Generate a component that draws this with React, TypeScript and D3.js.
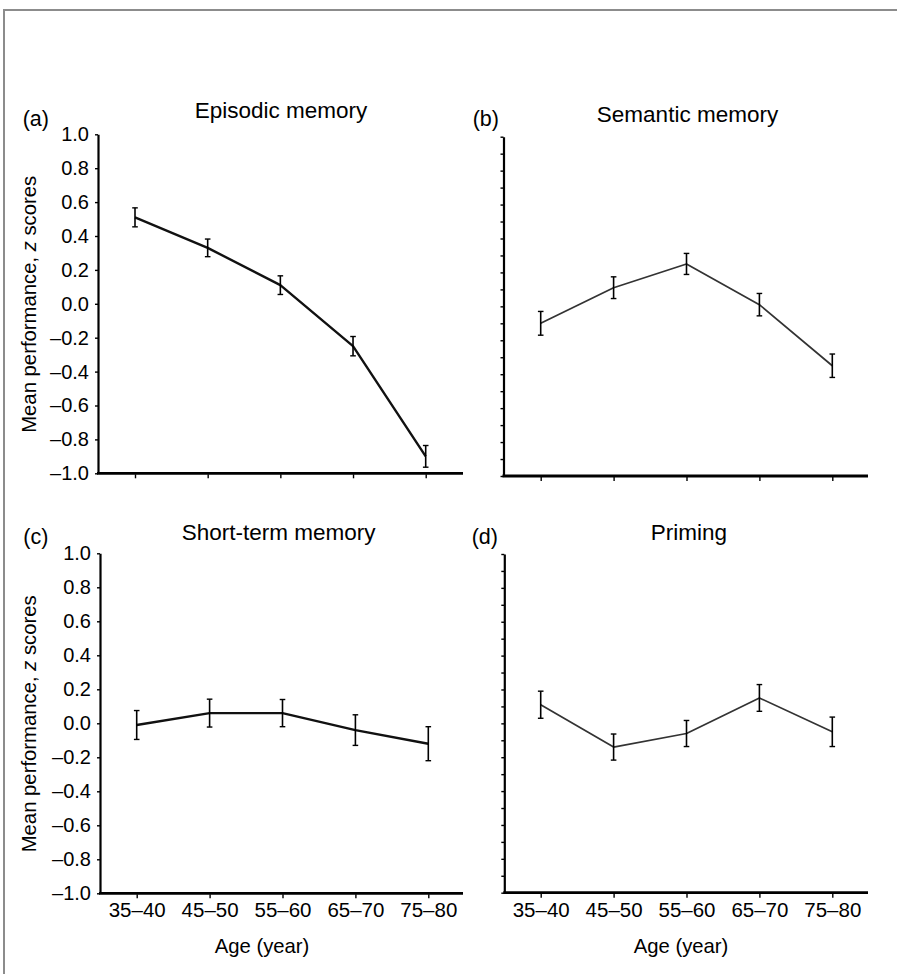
import React, { useEffect, useRef } from "react";
import * as d3 from "d3";

// categories
const ageGroups = ["35–40", "45–50", "55–60", "65–70", "75–80"];

// y ticks
const yTicksLabeled = [-1.0, -0.8, -0.6, -0.4, -0.2, 0.0, 0.2, 0.4, 0.6, 0.8, 1.0];
const yTicksMinor = [
  -1.0, -0.9, -0.8, -0.7, -0.6, -0.5, -0.4, -0.3, -0.2, -0.1, 0.0,
  0.1, 0.2, 0.3, 0.4, 0.5, 0.6, 0.7, 0.8, 0.9, 1.0,
];

// series (mean z scores and error bar half-widths)
const episodicMeans = [0.51, 0.33, 0.11, -0.25, -0.9];
const episodicErrors = [0.056, 0.052, 0.055, 0.057, 0.064];
const semanticMeans = [-0.1, 0.11, 0.25, 0.01, -0.35];
const semanticErrors = [0.07, 0.064, 0.062, 0.066, 0.069];
const shortTermMeans = [-0.01, 0.06, 0.06, -0.04, -0.12];
const shortTermErrors = [0.085, 0.082, 0.08, 0.09, 0.1];
const primingMeans = [0.11, -0.14, -0.06, 0.15, -0.05];
const primingErrors = [0.08, 0.077, 0.077, 0.079, 0.087];

const FONT = "'Liberation Sans', Arial, Helvetica, sans-serif";

const panels = [
  {
    letter: "(a)", title: "Episodic memory", means: episodicMeans, errors: episodicErrors,
    axisX: 98, top: 134.3, bottom: 473.3, x0: 135, x1: 425.7, axisEnd: 463,
    letterX: 22.7, letterY: 126, titleX: 281, titleY: 118,
    leftSide: true, bottomRow: false, lineColor: "#111", lineWidth: 2.4,
  },
  {
    letter: "(b)", title: "Semantic memory", means: semanticMeans, errors: semanticErrors,
    axisX: 503.5, top: 136.7, bottom: 476, x0: 540.7, x1: 832.3, axisEnd: 868,
    letterX: 472.7, letterY: 126, titleX: 687.5, titleY: 121.5,
    leftSide: false, bottomRow: false, lineColor: "#333", lineWidth: 1.7,
  },
  {
    letter: "(c)", title: "Short-term memory", means: shortTermMeans, errors: shortTermErrors,
    axisX: 100, top: 553.3, bottom: 893.3, x0: 136.7, x1: 428.3, axisEnd: 463,
    letterX: 23.3, letterY: 544, titleX: 278.7, titleY: 540,
    leftSide: true, bottomRow: true, lineColor: "#111", lineWidth: 2.4,
    xTitleX: 262,
  },
  {
    letter: "(d)", title: "Priming", means: primingMeans, errors: primingErrors,
    axisX: 504.3, top: 554, bottom: 892.7, x0: 540.7, x1: 832.3, axisEnd: 868,
    letterX: 471.7, letterY: 544, titleX: 689, titleY: 540,
    leftSide: false, bottomRow: true, lineColor: "#333", lineWidth: 1.7,
    xTitleX: 681,
  },
];

const fmt = (d: number) => d.toFixed(1).replace("-", "–");

const App = () => {
  const svgRef = useRef<SVGSVGElement>(null);

  useEffect(() => {
    const svg = d3.select(svgRef.current);
    svg.selectAll("*").remove();

    // outer frame
    svg.append("rect")
      .attr("x", 4)
      .attr("y", 10)
      .attr("width", 1000)
      .attr("height", 1000)
      .attr("fill", "none")
      .attr("stroke", "#8c8c8c")
      .attr("stroke-width", 2);

    panels.forEach((p) => {
      const x = d3.scalePoint<string>().domain(ageGroups).range([p.x0, p.x1]);
      const y = d3.scaleLinear().domain([-1, 1]).range([p.bottom, p.top]);
      const g = svg.append("g").attr("font-family", FONT);

      // y axis
      const yAxis = d3
        .axisLeft(y)
        .tickValues(p.leftSide ? yTicksLabeled : yTicksMinor)
        .tickSize(3)
        .tickSizeOuter(0)
        .tickPadding(6)
        .tickFormat((d) => (p.leftSide ? fmt(d as number) : ""));
      const ya = g.append("g").attr("transform", `translate(${p.axisX},0)`).call(yAxis);
      ya.select(".domain").attr("stroke", "#000").attr("stroke-width", 2.2);
      ya.selectAll(".tick line").attr("stroke", "#000").attr("stroke-width", 1.4);
      ya.selectAll(".tick text")
        .attr("fill", "#000")
        .attr("font-size", 20)
        .attr("font-family", FONT);

      // x axis line
      g.append("line")
        .attr("x1", p.axisX - 1)
        .attr("x2", p.axisEnd)
        .attr("y1", p.bottom)
        .attr("y2", p.bottom)
        .attr("stroke", "#000")
        .attr("stroke-width", 2.8);

      const xAxis = d3
        .axisBottom(x)
        .tickSize(4)
        .tickSizeOuter(0)
        .tickPadding(4.5)
        .tickFormat((d) => (p.bottomRow ? d : ""));
      const xa = g.append("g").attr("transform", `translate(0,${p.bottom + 1})`).call(xAxis);
      xa.select(".domain").remove();
      xa.selectAll(".tick line").attr("stroke", "#000").attr("stroke-width", 1.4);
      xa.selectAll(".tick text")
        .attr("fill", "#000")
        .attr("font-size", 20.5)
        .attr("font-family", FONT);

      // titles
      g.append("text")
        .attr("x", p.letterX)
        .attr("y", p.letterY)
        .attr("font-size", 21.5)
        .text(p.letter);
      g.append("text")
        .attr("x", p.titleX)
        .attr("y", p.titleY)
        .attr("text-anchor", "middle")
        .attr("font-size", 22.5)
        .text(p.title);

      // y axis title
      if (p.leftSide) {
        const cy = (p.top + p.bottom) / 2 + 0.5;
        const t = g.append("text")
          .attr("transform", `translate(36,${cy}) rotate(-90)`)
          .attr("text-anchor", "middle")
          .attr("font-size", 20.3);
        t.append("tspan").text("Mean performance, ");
        t.append("tspan").attr("font-style", "italic").text("z");
        t.append("tspan").text(" scores");
      }

      // x axis title
      if (p.bottomRow) {
        g.append("text")
          .attr("x", p.xTitleX as number)
          .attr("y", 953)
          .attr("text-anchor", "middle")
          .attr("font-size", 20.3)
          .text("Age (year)");
      }

      const pts = ageGroups.map((a, i) => ({ a, m: p.means[i], e: p.errors[i] }));

      // data line
      const line = d3
        .line<{ a: string; m: number }>()
        .x((d) => x(d.a) as number)
        .y((d) => y(d.m));
      g.append("path")
        .datum(pts)
        .attr("d", line)
        .attr("fill", "none")
        .attr("stroke", p.lineColor)
        .attr("stroke-width", p.lineWidth)
        .attr("stroke-linejoin", "round");

      // error bars
      const eb = g.selectAll(".err").data(pts).enter().append("g").attr("class", "err");
      eb.append("line")
        .attr("x1", (d) => x(d.a) as number)
        .attr("x2", (d) => x(d.a) as number)
        .attr("y1", (d) => y(d.m - d.e))
        .attr("y2", (d) => y(d.m + d.e))
        .attr("stroke", "#000")
        .attr("stroke-width", 1.6);
      [-1, 1].forEach((s) => {
        eb.append("line")
          .attr("x1", (d) => (x(d.a) as number) - 2.8)
          .attr("x2", (d) => (x(d.a) as number) + 2.8)
          .attr("y1", (d) => y(d.m + s * d.e))
          .attr("y2", (d) => y(d.m + s * d.e))
          .attr("stroke", "#000")
          .attr("stroke-width", 1.4);
      });
    });
  }, []);

  return (
    <svg
      ref={svgRef}
      width={897}
      height={974}
      style={{ position: "absolute", left: 0, top: 0, display: "block", background: "#fff" }}
    ></svg>
  );
};

export default App;
